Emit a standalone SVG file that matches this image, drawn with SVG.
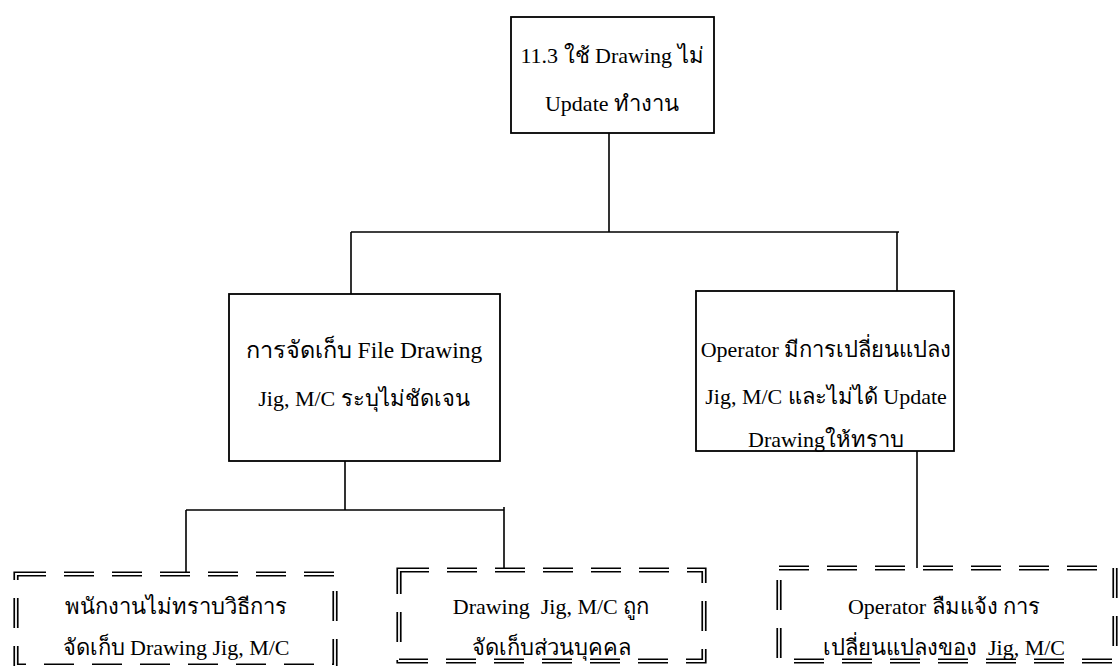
<svg xmlns="http://www.w3.org/2000/svg" width="1120" height="666" viewBox="0 0 1120 666">
  <style>
    .box { fill: #fff; stroke: #000; stroke-width: 1.8; }
    .wire { fill: none; stroke: #000; stroke-width: 1.6; }
    .dbl-outer { fill: #fff; stroke: #000; stroke-width: 5.2; stroke-dasharray: 30 18; }
    .dbl-inner { fill: none; stroke: #fff; stroke-width: 1.8; stroke-dasharray: 30 18; }
    .lbl { font-family: "Liberation Serif", "Times New Roman", serif; font-size: 22px; fill: #000; text-anchor: middle; }
    .wide { font-size: 23.5px; }
  </style>

  <rect width="1120" height="666" fill="#fff"/>

  <!-- connectors -->
  <g id="connectors">
    <path class="wire" d="M609 133 V232 M351 232 H899 M351 232 V294 M897 232 V291"/>
    <path class="wire" d="M345 461 V510 M186 510 H504 M186 510 V575 M504 507 V573"/>
    <path class="wire" d="M917 451 V568"/>
  </g>

  <!-- root -->
  <g id="n-root">
    <rect class="box" x="511" y="17" width="203" height="116"/>
    <text class="lbl" x="612" y="63">11.3 ใช้ Drawing ไม่</text>
    <text class="lbl" x="612" y="111">Update ทำงาน</text>
  </g>

  <!-- second level -->
  <g id="n-storage">
    <rect class="box" x="229" y="294" width="271" height="167"/>
    <text class="lbl wide" x="364" y="358">การจัดเก็บ File Drawing</text>
    <text class="lbl" x="364" y="406">Jig, M/C ระบุไม่ชัดเจน</text>
  </g>

  <g id="n-operator">
    <rect class="box" x="696" y="291" width="258" height="160"/>
    <text class="lbl" x="826" y="357">Operator มีการเปลี่ยนแปลง</text>
    <text class="lbl" x="826" y="404">Jig, M/C และไม่ได้ Update</text>
    <text class="lbl" x="826" y="447">Drawingให้ทราบ</text>
  </g>

  <!-- third level (double dashed frames) -->
  <g id="n-staff">
    <rect class="dbl-outer" x="16" y="574" width="319" height="92"/>
    <rect class="dbl-inner" x="16" y="574" width="319" height="92"/>
    <text class="lbl" x="176" y="614">พนักงานไม่ทราบวิธีการ</text>
    <text class="lbl" x="176" y="655">จัดเก็บ Drawing Jig, M/C</text>
  </g>

  <g id="n-personal">
    <rect class="dbl-outer" x="399" y="570" width="305" height="91"/>
    <rect class="dbl-inner" x="399" y="570" width="305" height="91"/>
    <text class="lbl" x="551" y="614" xml:space="preserve">Drawing  Jig, M/C ถูก</text>
    <text class="lbl" x="551" y="655">จัดเก็บส่วนบุคคล</text>
  </g>

  <g id="n-forget">
    <rect class="dbl-outer" x="779" y="568" width="336" height="93"/>
    <rect class="dbl-inner" x="779" y="568" width="336" height="93"/>
    <text class="lbl" x="944" y="614">Operator ลืมแจ้ง การ</text>
    <text class="lbl" x="944" y="655" xml:space="preserve">เปลี่ยนแปลงของ  Jig, M/C</text>
  </g>
</svg>
